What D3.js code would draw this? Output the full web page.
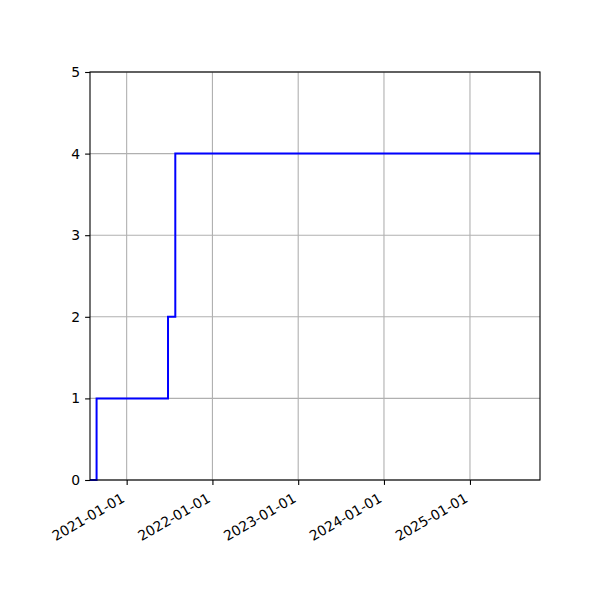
<!DOCTYPE html>
<html>
<head>
<meta charset="utf-8">
<script src="https://cdn.jsdelivr.net/npm/d3@7"></script>
<style>
  body { margin: 0; background: #fff; }
  text { font-family: "DejaVu Sans", sans-serif; font-size: 13.9px; fill: #000; }
</style>
</head>
<body>
<div id="chart"></div>
<script>
// step data (value holds until next date)
var dates = ["2020-07-29", "2020-08-26", "2021-06-26", "2021-07-27", "2025-10-26"];
var counts = [0, 1, 2, 4, 4];
var xTicks = ["2021-01-01", "2022-01-01", "2023-01-01", "2024-01-01", "2025-01-01"];
var yTicks = [0, 1, 2, 3, 4, 5];

(function(){
	var W = 600, H = 600;
	var left = 90, right = 540, top = 72, bottom = 480;
	var parse = d3.utcParse("%Y-%m-%d");

	var data = dates.map(function(d, i){ return {date: parse(d), v: counts[i]}; });

	var svg = d3.select("#chart").append("svg")
		.attr("width", W)
		.attr("height", H);

	var x = d3.scaleUtc()
		.domain(d3.extent(data, function(d){ return d.date; }))
		.range([left, right]);
	var y = d3.scaleLinear()
		.domain([0, 5])
		.range([bottom, top]);

	var tickDates = xTicks.map(parse);

	// grid
	svg.append("g").selectAll("line.gx")
		.data(tickDates)
		.enter().append("line")
		.attr("x1", function(d){ return x(d); })
		.attr("x2", function(d){ return x(d); })
		.attr("y1", top).attr("y2", bottom)
		.attr("stroke", "#b0b0b0").attr("stroke-width", 1.1);
	svg.append("g").selectAll("line.gy")
		.data(yTicks)
		.enter().append("line")
		.attr("x1", left).attr("x2", right)
		.attr("y1", function(d){ return y(d); })
		.attr("y2", function(d){ return y(d); })
		.attr("stroke", "#b0b0b0").attr("stroke-width", 1.1);

	// step line
	var line = d3.line()
		.x(function(d){ return x(d.date); })
		.y(function(d){ return y(d.v); })
		.curve(d3.curveStepAfter);
	svg.append("path")
		.datum(data)
		.attr("d", line)
		.attr("fill", "none")
		.attr("stroke", "#0000ff")
		.attr("stroke-width", 2);

	// axes
	var xAxis = svg.append("g")
		.attr("transform", "translate(0," + bottom + ")")
		.call(d3.axisBottom(x).tickValues(tickDates).tickSize(4.9).tickPadding(4.9)
			.tickFormat(d3.utcFormat("%Y-%m-%d")));
	xAxis.select(".domain").remove();
	xAxis.selectAll(".tick line").attr("stroke", "#000").attr("stroke-width", 1.1);
	// rotated labels, right edge at tick (like autofmt_xdate)
	xAxis.selectAll(".tick text")
		.attr("text-anchor", "end")
		.attr("x", -1.6)
		.attr("y", 21)
		.attr("dy", null)
		.attr("transform", "rotate(-30,-1.6,21)");

	var yAxis = svg.append("g")
		.attr("transform", "translate(" + left + ",0)")
		.call(d3.axisLeft(y).tickValues(yTicks).tickSize(4.9).tickPadding(4.9)
			.tickFormat(d3.format("d")));
	yAxis.select(".domain").remove();
	yAxis.selectAll(".tick line").attr("stroke", "#000").attr("stroke-width", 1.1);
	svg.selectAll(".tick text").style("font-size", "13.9px").style("font-family", "DejaVu Sans");

	// frame
	svg.append("rect")
		.attr("x", left).attr("y", top)
		.attr("width", right - left).attr("height", bottom - top)
		.attr("fill", "none")
		.attr("stroke", "#000")
		.attr("stroke-width", 1.1);
})();
</script>
</body>
</html>
